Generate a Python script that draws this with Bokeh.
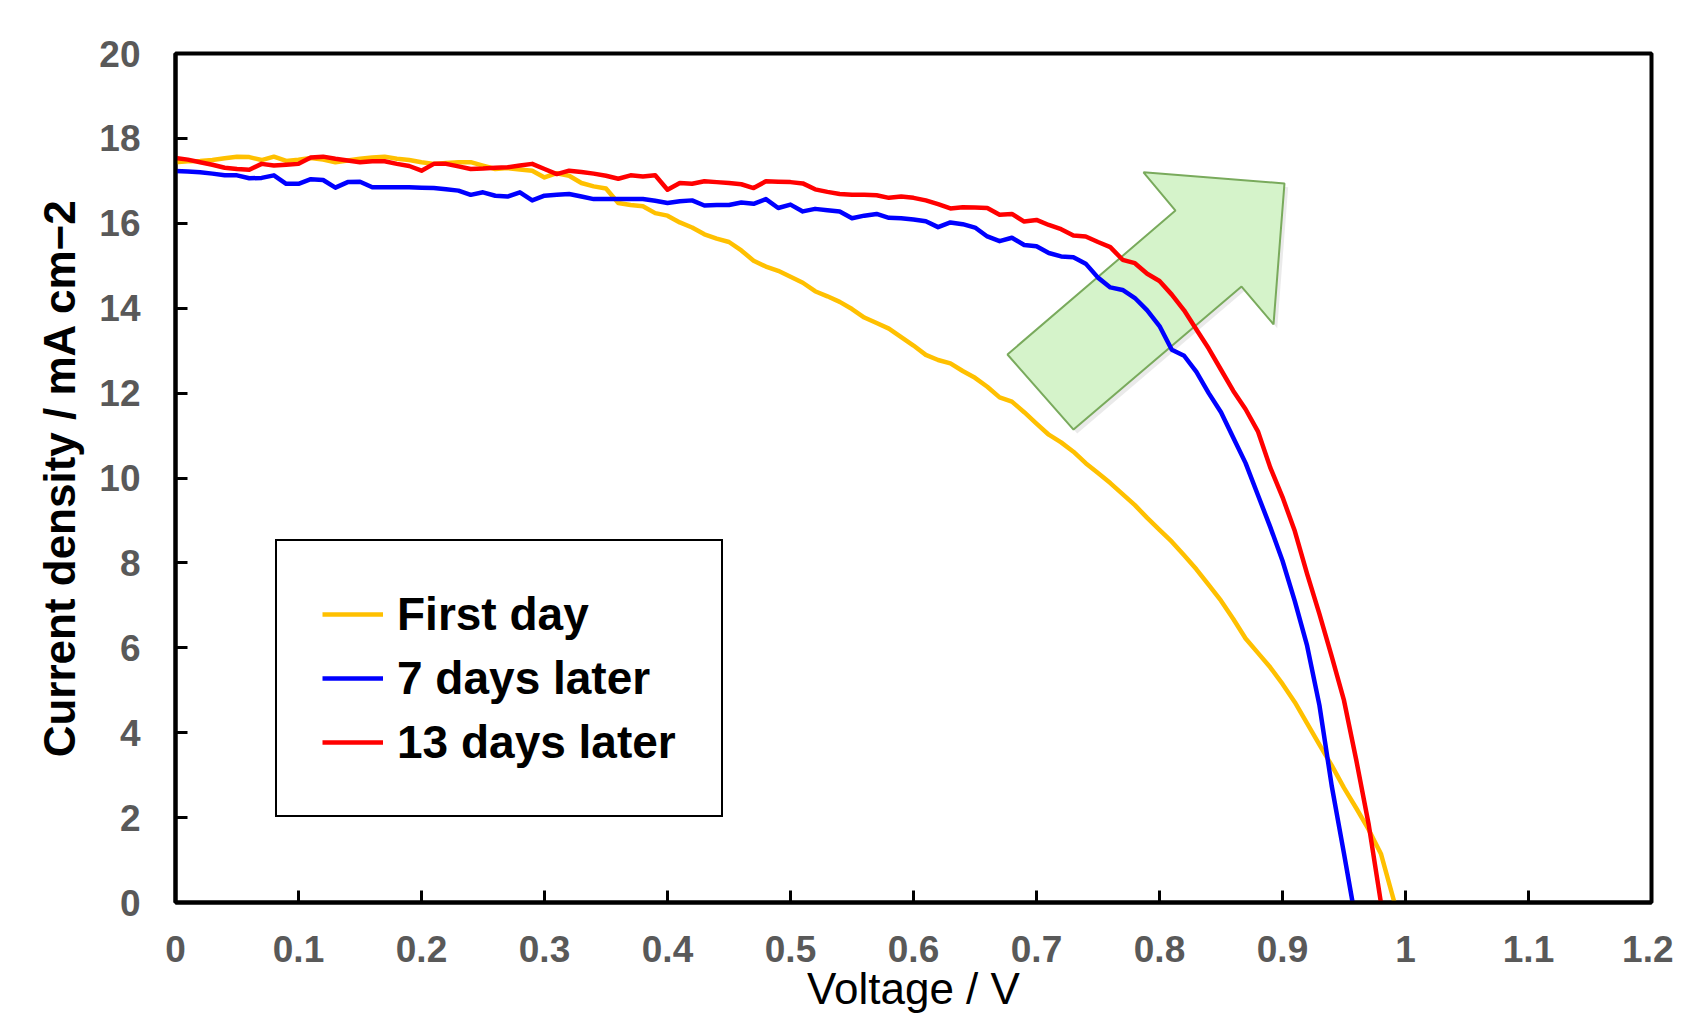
from bokeh.plotting import figure
from bokeh.models import Range1d, FixedTicker, Legend, LegendItem
from bokeh.embed import file_html
from bokeh.resources import INLINE

# ---------------- data ----------------
v_first = [0.00, 0.01, 0.02, 0.03, 0.04, 0.05, 0.06, 0.07, 0.08, 0.09,
           0.10, 0.11, 0.12, 0.13, 0.14, 0.15, 0.16, 0.17, 0.18, 0.19,
           0.20, 0.21, 0.22, 0.23, 0.24, 0.25, 0.26, 0.27, 0.28, 0.29,
           0.30, 0.31, 0.32, 0.33, 0.34, 0.35, 0.36, 0.37, 0.38, 0.39,
           0.40, 0.41, 0.42, 0.43, 0.44, 0.45, 0.46, 0.47, 0.48, 0.49,
           0.50, 0.51, 0.52, 0.53, 0.54, 0.55, 0.56, 0.57, 0.58, 0.59,
           0.60, 0.61, 0.62, 0.63, 0.64, 0.65, 0.66, 0.67, 0.68, 0.69,
           0.70, 0.71, 0.72, 0.73, 0.74, 0.75, 0.76, 0.77, 0.78, 0.79,
           0.80, 0.81, 0.82, 0.83, 0.84, 0.85, 0.86, 0.87, 0.88, 0.89,
           0.90, 0.91, 0.92, 0.93, 0.94, 0.95, 0.96, 0.97, 0.98, 0.991]
j_first = [17.44, 17.46, 17.47, 17.49, 17.53, 17.57, 17.56, 17.49, 17.57, 17.47,
           17.50, 17.54, 17.50, 17.44, 17.48, 17.52, 17.55, 17.57, 17.52, 17.49,
           17.44, 17.40, 17.42, 17.44, 17.44, 17.36, 17.28, 17.30, 17.27, 17.24,
           17.08, 17.18, 17.12, 16.95, 16.87, 16.82, 16.48, 16.43, 16.40, 16.24,
           16.18, 16.02, 15.90, 15.74, 15.64, 15.56, 15.36, 15.12, 14.98, 14.88,
           14.74, 14.60, 14.40, 14.28, 14.15, 13.98, 13.78, 13.65, 13.52, 13.32,
           13.12, 12.90, 12.78, 12.70, 12.52, 12.36, 12.15, 11.90, 11.80, 11.55,
           11.28, 11.02, 10.84, 10.62, 10.35, 10.12, 9.88, 9.62, 9.36, 9.06,
           8.78, 8.50, 8.18, 7.85, 7.48, 7.11, 6.68, 6.22, 5.88, 5.54,
           5.15, 4.72, 4.22, 3.72, 3.23, 2.70, 2.22, 1.72, 1.15, 0.00]

v_7days = [0.00, 0.01, 0.02, 0.03, 0.04, 0.05, 0.06, 0.07, 0.08, 0.09,
           0.10, 0.11, 0.12, 0.13, 0.14, 0.15, 0.16, 0.17, 0.18, 0.19,
           0.20, 0.21, 0.22, 0.23, 0.24, 0.25, 0.26, 0.27, 0.28, 0.29,
           0.30, 0.31, 0.32, 0.33, 0.34, 0.35, 0.36, 0.37, 0.38, 0.39,
           0.40, 0.41, 0.42, 0.43, 0.44, 0.45, 0.46, 0.47, 0.48, 0.49,
           0.50, 0.51, 0.52, 0.53, 0.54, 0.55, 0.56, 0.57, 0.58, 0.59,
           0.60, 0.61, 0.62, 0.63, 0.64, 0.65, 0.66, 0.67, 0.68, 0.69,
           0.70, 0.71, 0.72, 0.73, 0.74, 0.75, 0.76, 0.77, 0.78, 0.79,
           0.80, 0.81, 0.82, 0.83, 0.84, 0.85, 0.86, 0.87, 0.88, 0.89,
           0.90, 0.91, 0.92, 0.93, 0.94, 0.95, 0.957]
j_7days = [17.23, 17.22, 17.20, 17.17, 17.13, 17.13, 17.06, 17.07, 17.13, 16.93,
           16.93, 17.04, 17.02, 16.84, 16.97, 16.98, 16.85, 16.85, 16.85, 16.85,
           16.84, 16.83, 16.80, 16.77, 16.67, 16.73, 16.65, 16.63, 16.73, 16.54,
           16.65, 16.67, 16.69, 16.63, 16.57, 16.57, 16.57, 16.57, 16.57, 16.53,
           16.48, 16.52, 16.54, 16.42, 16.43, 16.43, 16.49, 16.46, 16.57, 16.36,
           16.44, 16.28, 16.34, 16.31, 16.28, 16.12, 16.18, 16.22, 16.13, 16.12,
           16.09, 16.05, 15.91, 16.02, 15.98, 15.90, 15.69, 15.58, 15.66, 15.49,
           15.46, 15.30, 15.22, 15.20, 15.05, 14.72, 14.49, 14.43, 14.24, 13.95,
           13.58, 13.02, 12.88, 12.50, 12.00, 11.55, 10.95, 10.35, 9.60, 8.85,
           8.05, 7.10, 6.05, 4.65, 2.75, 1.15, 0.00]

v_13days = [0.00, 0.01, 0.02, 0.03, 0.04, 0.05, 0.06, 0.07, 0.08, 0.09,
            0.10, 0.11, 0.12, 0.13, 0.14, 0.15, 0.16, 0.17, 0.18, 0.19,
            0.20, 0.21, 0.22, 0.23, 0.24, 0.25, 0.26, 0.27, 0.28, 0.29,
            0.30, 0.31, 0.32, 0.33, 0.34, 0.35, 0.36, 0.37, 0.38, 0.39,
            0.40, 0.41, 0.42, 0.43, 0.44, 0.45, 0.46, 0.47, 0.48, 0.49,
            0.50, 0.51, 0.52, 0.53, 0.54, 0.55, 0.56, 0.57, 0.58, 0.59,
            0.60, 0.61, 0.62, 0.63, 0.64, 0.65, 0.66, 0.67, 0.68, 0.69,
            0.70, 0.71, 0.72, 0.73, 0.74, 0.75, 0.76, 0.77, 0.78, 0.79,
            0.80, 0.81, 0.82, 0.83, 0.84, 0.85, 0.86, 0.87, 0.88, 0.89,
            0.90, 0.91, 0.92, 0.93, 0.94, 0.95, 0.96, 0.97, 0.98]
j_13days = [17.54, 17.50, 17.44, 17.38, 17.31, 17.28, 17.26, 17.40, 17.36, 17.38,
            17.40, 17.55, 17.57, 17.52, 17.48, 17.44, 17.46, 17.46, 17.40, 17.35,
            17.24, 17.40, 17.40, 17.34, 17.28, 17.29, 17.31, 17.32, 17.36, 17.40,
            17.28, 17.16, 17.24, 17.21, 17.17, 17.12, 17.05, 17.13, 17.10, 17.13,
            16.79, 16.95, 16.93, 16.99, 16.97, 16.95, 16.92, 16.83, 16.99, 16.98,
            16.97, 16.94, 16.80, 16.74, 16.69, 16.67, 16.67, 16.66, 16.60, 16.63,
            16.60, 16.54, 16.45, 16.35, 16.38, 16.37, 16.36, 16.20, 16.22, 16.04,
            16.08, 15.96, 15.86, 15.71, 15.69, 15.56, 15.44, 15.14, 15.06, 14.81,
            14.64, 14.32, 13.95, 13.50, 13.05, 12.55, 12.05, 11.62, 11.10, 10.25,
            9.55, 8.75, 7.74, 6.80, 5.80, 4.76, 3.35, 1.85, 0.00]

series_labels = ["First day", "7 days later", "13 days later"]
series_colors = ["#FFC000", "#0000FF", "#FF0000"]

x_ticks = [0, 0.1, 0.2, 0.3, 0.4, 0.5, 0.6, 0.7, 0.8, 0.9, 1.0, 1.1, 1.2]
x_tick_labels = ["0", "0.1", "0.2", "0.3", "0.4", "0.5", "0.6", "0.7", "0.8", "0.9", "1", "1.1", "1.2"]
y_ticks = [0, 2, 4, 6, 8, 10, 12, 14, 16, 18, 20]

# decorative arrow (data coordinates)
arrow_x = [0.6764, 0.7301, 0.8667, 0.8927, 0.9016, 0.7870, 0.8130]
arrow_y = [12.91, 11.14, 14.51, 13.62, 16.94, 17.20, 16.30]

# ---------------- figure ----------------
FONT = "Liberation Sans"
p = figure(width=1673, height=1026, output_backend="svg", toolbar_location=None,
           x_range=Range1d(0, 1.2), y_range=Range1d(0, 20),
           min_border_left=175, min_border_right=22, min_border_top=53, min_border_bottom=124)
p.background_fill_color = "white"
p.border_fill_color = "white"
p.grid.visible = False
p.outline_line_color = "black"
p.outline_line_width = 4
p.outline_line_alpha = 1.0

for ax in (p.xaxis[0], p.yaxis[0]):
    ax.axis_line_width = 4
    ax.axis_line_color = "black"
    ax.major_tick_line_width = 3
    ax.major_tick_line_color = "black"
    ax.major_tick_in = 12
    ax.major_tick_out = 0
    ax.minor_tick_line_color = None
    ax.major_label_text_font = FONT
    ax.major_label_text_font_size = "37px"
    ax.major_label_text_font_style = "bold"
    ax.major_label_text_color = "#595959"
    ax.axis_label_text_font = FONT
    ax.axis_label_text_color = "black"

p.xaxis.ticker = FixedTicker(ticks=x_ticks)
p.xaxis.major_label_overrides = {t: l for t, l in zip(x_ticks, x_tick_labels)}
p.xaxis.major_label_standoff = 33
p.xaxis.axis_label = "Voltage / V"
p.xaxis.axis_label_text_font_size = "44px"
p.xaxis.axis_label_text_font_style = "normal"
p.xaxis.axis_label_standoff = -1

p.yaxis.ticker = FixedTicker(ticks=y_ticks)
p.yaxis.major_label_standoff = 35
p.yaxis.axis_label = "Current density / mA cm\u22122"
p.yaxis.axis_label_text_font_size = "44px"
p.yaxis.axis_label_text_font_style = "bold"
p.yaxis.axis_label_standoff = 12

# arrow with a faint shadow
p.patch([x + 0.003 for x in arrow_x], [y - 0.09 for y in arrow_y],
        fill_color="#888888", fill_alpha=0.18, line_color=None)
p.patch(arrow_x, arrow_y, fill_color="#d5f3ca", fill_alpha=1.0,
        line_color="#79aa5c", line_width=2)

renderers = []
for vx, jy, col in zip([v_first, v_7days, v_13days], [j_first, j_7days, j_13days], series_colors):
    r = p.line(vx, jy, line_color=col, line_width=4.5, line_join="round")
    renderers.append(r)

legend = Legend(items=[LegendItem(label=lab, renderers=[r]) for lab, r in zip(series_labels, renderers)],
                location=(100, 85), orientation="vertical",
                border_line_color="black", border_line_width=2.5, border_line_alpha=1.0,
                background_fill_color="white", background_fill_alpha=1.0,
                padding=45, spacing=8, margin=0, label_standoff=14,
                glyph_width=61, glyph_height=56, label_height=56,
                label_text_font=FONT, label_text_font_size="46px",
                label_text_font_style="bold", label_text_color="black")
p.add_layout(legend)

open("out.html", "w").write(file_html(p, INLINE))
